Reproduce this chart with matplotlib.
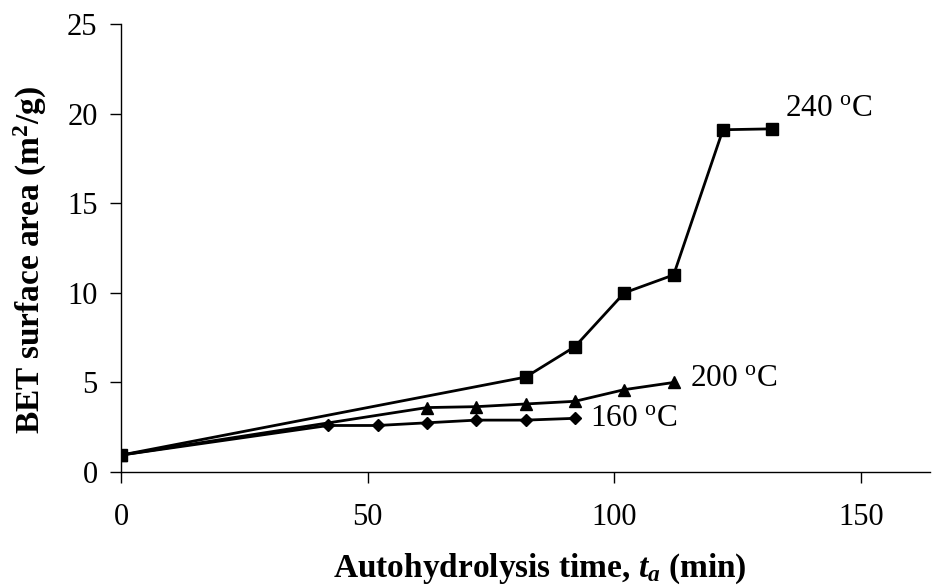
import matplotlib
matplotlib.use("Agg")
import matplotlib.pyplot as plt

plt.rcParams['font.family'] = ['Liberation Serif', 'DejaVu Serif']
plt.rcParams['mathtext.fontset'] = 'custom'
plt.rcParams['mathtext.rm'] = 'Liberation Serif'
plt.rcParams['mathtext.it'] = 'Liberation Serif:italic:bold'
plt.rcParams['mathtext.bf'] = 'Liberation Serif:bold'

# Data
t_240 = [0, 82, 92, 102, 112, 122, 132]
bet_240 = [0.95, 5.3, 7.0, 10.0, 11.0, 19.1, 19.15]
t_200 = [0, 62, 72, 82, 92, 102, 112]
bet_200 = [0.95, 3.6, 3.65, 3.8, 3.95, 4.6, 5.0]
t_160 = [0, 42, 52, 62, 72, 82, 92]
bet_160 = [0.95, 2.6, 2.6, 2.75, 2.9, 2.9, 3.0]

labels = ["240 $^{\\rm o}$C", "200 $^{\\rm o}$C", "160 $^{\\rm o}$C"]
xticks = [0, 50, 100, 150]
yticks = [0, 5, 10, 15, 20, 25]

fig = plt.figure(figsize=(9.32, 5.85), dpi=100)
ax = fig.add_axes([0.130, 0.193, 0.868, 0.766])

lw = 2.0
ax.plot(t_240, bet_240, color='black', lw=lw, marker='s', ms=8, zorder=3)
ax.plot(t_200, bet_200, color='black', lw=lw, marker='^', ms=9, zorder=3)
ax.plot(t_160, bet_160, color='black', lw=lw, marker='D', ms=6.5, zorder=3)

ax.text(134.5, 20.3, labels[0], fontsize=22.5, va='center', ha='left')
ax.text(115.3, 5.2, labels[1], fontsize=22.5, va='center', ha='left')
ax.text(95.0, 3.0, labels[2], fontsize=22.5, va='center', ha='left')

ax.set_xlim(0, 164)
ax.set_ylim(0, 25)
ax.set_xticks(xticks)
ax.set_yticks(yticks)
ax.tick_params(axis='both', direction='out', length=8, width=1, labelsize=22)
ax.tick_params(axis='x', pad=14)
ax.tick_params(axis='y', pad=9)
for s in ['top', 'right']:
    ax.spines[s].set_visible(False)
for s in ['left', 'bottom']:
    ax.spines[s].set_linewidth(1)
ax.spines['left'].set_position(('data', 0))

ax.set_xlabel("Autohydrolysis time, $t_a$ (min)", fontsize=24, fontweight='bold', va='baseline')
ax.xaxis.set_label_coords(0.518, -0.234)
ax.set_ylabel("BET surface area (m$^\\mathbf{2}$/g)", fontsize=24, fontweight='bold', va='center')
ax.yaxis.set_label_coords(-0.1125, 0.474)

fig.savefig("out.png", dpi=100)
